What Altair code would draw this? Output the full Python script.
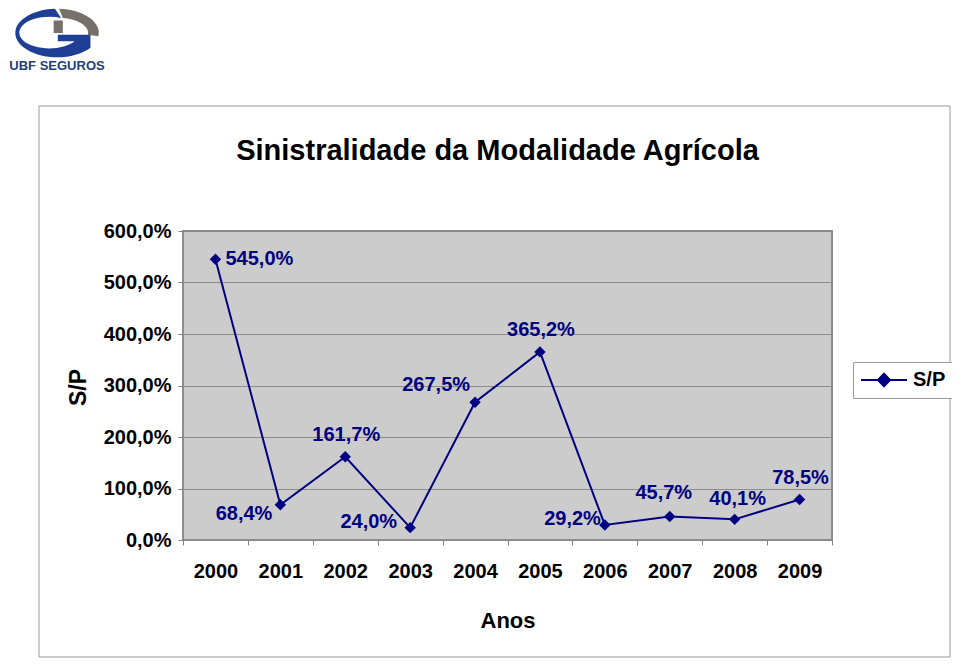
import altair as alt
import pandas as pd

# ---- data ----
years = ["2000", "2001", "2002", "2003", "2004", "2005", "2006", "2007", "2008", "2009"]
values = [545.0, 68.4, 161.7, 24.0, 267.5, 365.2, 29.2, 45.7, 40.1, 78.5]
series_name = "S/P"
y_ticks = [0, 100, 200, 300, 400, 500, 600]
chart_title = "Sinistralidade da Modalidade Agrícola"
x_title = "Anos"
y_title = "S/P"
brand = "UBF SEGUROS"

df = pd.DataFrame({"year": years, "value": values, "serie": series_name})
df["label"] = [f"{v:.1f}".replace(".", ",") + "%" for v in values]

NAVY = "#000080"
FONT = "Liberation Sans"
W, H = 649, 309

x_enc = alt.X(
    "year:O",
    scale=alt.Scale(type="band", paddingInner=0, paddingOuter=0),
    axis=alt.Axis(
        title=x_title, labelAngle=0, tickBand="extent", grid=False,
        labelFont=FONT, labelFontSize=20, labelFontWeight="bold", labelColor="black",
        labelPadding=16, tickSize=5, tickColor="#808080", domain=False,
        titleFont=FONT, titleFontSize=22, titleFontWeight="bold", titleColor="black",
        titleY=87, titleBaseline="alphabetic",
    ),
)
y_enc = alt.Y(
    "value:Q",
    scale=alt.Scale(domain=[0, 600], nice=False, zero=True),
    axis=alt.Axis(
        values=y_ticks,
        labelExpr="replace(format(datum.value, '.1f'), '.', ',') + '%'",
        title=y_title, grid=True, gridColor="#8c8c8c", gridWidth=1,
        labelFont=FONT, labelFontSize=20, labelFontWeight="bold", labelColor="black",
        labelPadding=7, tickSize=5, tickColor="#808080", domain=False,
        titleFont=FONT, titleFontSize=23, titleFontWeight="bold", titleColor="black",
        titleAngle=-90, titleX=-105, titleY=156, titleBaseline="middle", titleAlign="center",
    ),
)

base = alt.Chart(df)

line = base.mark_line(color=NAVY, strokeWidth=2).encode(x=x_enc, y=y_enc)

legend_path = "M-1,0L3.6,0M0.7,0L1.3,-0.62L1.9,0L1.3,0.62Z"
points = base.mark_point(filled=True, shape="diamond", size=130, opacity=1).encode(
    x=x_enc, y=y_enc,
    color=alt.Color(
        "serie:N",
        scale=alt.Scale(domain=[series_name], range=[NAVY]),
        legend=alt.Legend(
            title=None, orient="none", legendX=670, legendY=131,
            symbolType=legend_path, symbolSize=400, symbolStrokeColor=NAVY,
            symbolStrokeWidth=2, symbolFillColor=NAVY, labelOffset=31,
            labelFont=FONT, labelFontSize=20, labelFontWeight="bold", labelColor="black",
            padding=7, strokeColor="#9a9a9a", fillColor="white", cornerRadius=0,
        ),
    ),
)


def labels(year_list, **kw):
    return base.transform_filter(
        alt.FieldOneOfPredicate(field="year", oneOf=year_list)
    ).mark_text(font=FONT, fontSize=20, fontWeight="bold", color=NAVY, baseline="middle", **kw).encode(
        x=x_enc, y=y_enc, text="label:N"
    )


lab_right = labels(["2000"], align="left", dx=10, dy=0)
lab_below_left = labels(["2001"], align="right", dx=-8, dy=9)
lab_above = labels(["2002", "2005", "2009"], align="center", dx=1, dy=-22)
lab_above_l = labels(["2007"], align="center", dx=-6, dy=-23)
lab_above_r = labels(["2008"], align="center", dx=3, dy=-20)
lab_left_far = labels(["2003"], align="right", dx=-13, dy=-6)
lab_left = labels(["2006"], align="right", dx=-4, dy=-6)
lab_up_left = labels(["2004"], align="right", dx=-5, dy=-17)

one = pd.DataFrame({"k": [0]})
frame = alt.Chart(one).mark_rect(fillOpacity=0, stroke="#9a9a9a", strokeWidth=1).encode(
    x=alt.value(-144), x2=alt.value(767), y=alt.value(-125), y2=alt.value(426)
)

blue_path = ("M-0.05,-0.58A1,0.58,0,1,0,0.8,0.35L0.8,0.04L0.02,0.04L0.02,0.2"
             "L0.42,0.2A0.72,0.38,0,1,1,0.1,-0.36Z")
gray_path = ("M0.05,-0.58A1,0.58,0,0,1,0.99,0.08L0.74,0.04A0.7,0.36,0,0,0,0.14,-0.36Z"
             "M-0.08,-0.3L0.14,-0.3L0.14,0.0L-0.08,0.0Z")
logo_blue = alt.Chart(one).mark_point(shape=blue_path, filled=True, fill="#1f3f94", size=7000,
                                      strokeWidth=0, opacity=1).encode(
    x=alt.value(-126), y=alt.value(-198))
logo_gray = alt.Chart(one).mark_point(shape=gray_path, filled=True, fill="#77706a", size=7000,
                                      strokeWidth=0, opacity=1).encode(
    x=alt.value(-126), y=alt.value(-198))
logo_text = alt.Chart(one).mark_text(text=brand, font=FONT, fontSize=13, fontWeight="bold",
                                     color="#24407a", align="center", baseline="alphabetic").encode(
    x=alt.value(-126), y=alt.value(-161))

chart = alt.layer(
    frame, logo_gray, logo_blue, logo_text, line, points,
    lab_right, lab_below_left, lab_above, lab_above_l, lab_above_r,
    lab_left_far, lab_left, lab_up_left,
).properties(
    width=W, height=H,
    autosize=alt.AutoSizeParams(type="none"),
    padding={"left": 175, "top": 223, "right": 120, "bottom": 119},
    title=alt.TitleParams(
        chart_title, font=FONT, fontSize=29, fontWeight="bold", color="black",
        anchor="middle", frame="group", dx=-10, offset=0, dy=180, baseline="alphabetic",
    ),
).configure_view(
    fill="#cccccc", stroke="#8c8c8c", strokeWidth=2
)

chart.save("out.html", embed_options={"renderer": "svg", "actions": False})
